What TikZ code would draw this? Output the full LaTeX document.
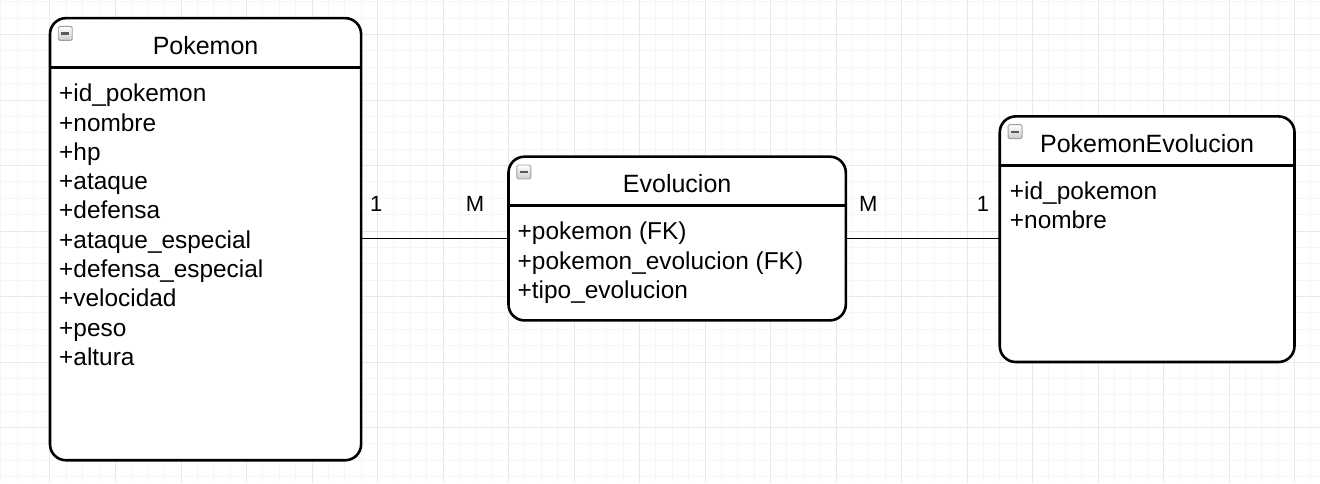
\documentclass[tikz,border=0pt]{standalone}
\usepackage{fontspec}
\setmainfont{Liberation Sans}
\tikzset{
  entity/.style={draw, line width=2.6pt, rounded corners=16pt, fill=white,
    inner sep=0pt, outer sep=0pt, anchor=north west},
  entitle/.style={anchor=base, inner sep=0pt, font=\fontsize{25}{30}\selectfont},
  attr/.style={anchor=base west, inner sep=0pt, font=\fontsize{24.4}{29.3}\selectfont},
  card/.style={anchor=base, inner sep=0pt, font=\fontsize{22}{26}\selectfont},
  rel/.style={line width=1.3pt},
  minbox/.style={minimum size=14pt, inner sep=0pt, rounded corners=1.5pt,
    draw=gray!75, line width=0.9pt, top color=white, bottom color=gray!40,
    path picture={\draw[line width=2.2pt, black!65]
      ([xshift=3pt]path picture bounding box.west) --
      ([xshift=-3pt]path picture bounding box.east);}},
  gridminor/.style={line width=1pt, draw=gray!7},
  gridmajor/.style={line width=1pt, draw=gray!17}
}
\begin{document}
\begin{tikzpicture}

\newcommand\G{16.375pt};

\useasboundingbox (-50pt,34.5pt) rectangle (1270pt,-448.5pt);
\fill[white] (-50pt,34.5pt) rectangle (1270pt,-448.5pt);

%% grid
\foreach \k in {-3,...,77}
  \draw[gridminor] (\k*\G,-448.5pt) -- (\k*\G,34.5pt);
\foreach \k in {-27,...,2}
  \draw[gridminor] (-50pt,\k*\G) -- (1270pt,\k*\G);
\foreach \k in {0,4,...,76}
  \draw[gridmajor] (\k*\G,-448.5pt) -- (\k*\G,34.5pt);
\foreach \k in {-24,-20,...,0}
  \draw[gridmajor] (-50pt,\k*\G) -- (1270pt,\k*\G);

%% entities
\node[entity, minimum width=19*\G, minimum height=27*\G] (pk) at (0*\G, 1*\G) {};
\node[entity, minimum width=20.6*\G, minimum height=10*\G] (evo) at (28*\G, -7.46*\G) {};
\node[entity, minimum width=18*\G, minimum height=15*\G] (pe) at (58*\G, -5*\G) {};

\foreach \e in {pk, evo, pe} {
  \draw[line width=2.6pt] ([yshift=-3*\G]\e.north west) -- ([yshift=-3*\G]\e.north east);
  \node[minbox] (\e-ic) at ([xshift=15.3pt,yshift=-15.3pt]\e.north west) {};
}

\node[entitle] (pk-t) at ([yshift=-36pt]pk.north) {Pokemon};
\node[entitle] (evo-t) at ([yshift=-36pt]evo.north) {Evolucion};
\node[entitle] (pe-t) at ([yshift=-36pt]pe.north) {PokemonEvolucion};

%% attributes
\foreach \a [count=\i] in {+id\_pokemon, +nombre, +hp, +ataque, +defensa,
  +ataque\_especial, +defensa\_especial, +velocidad, +peso, +altura}
  \node[attr] (pk-\i) at ([xshift=9pt, yshift={-3*\G-34.5pt-(\i-1)*29.3pt}]pk.north west) {\a};
\foreach \a [count=\i] in {+pokemon (FK), +pokemon\_evolucion (FK), +tipo\_evolucion}
  \node[attr] (evo-\i) at ([xshift=9pt, yshift={-3*\G-34pt-(\i-1)*29.3pt}]evo.north west) {\a};
\foreach \a [count=\i] in {+id\_pokemon, +nombre}
  \node[attr] (pe-\i) at ([xshift=10pt, yshift={-3*\G-33.5pt-(\i-1)*29.3pt}]pe.north west) {\a};

%% relations
\draw[rel] (evo.west -| pk.east) -- (evo.west);
\draw[rel] (evo.east) -- (evo.east -| pe.west);

\node[card] (c-pk) at ([xshift=15pt,yshift=27.3pt]evo.west -| pk.east) {1};
\node[card] (c-evo1) at ([xshift=-33.5pt,yshift=27.3pt]evo.west) {M};
\node[card] (c-evo2) at ([xshift=22.5pt,yshift=27.3pt]evo.east) {M};
\node[card] (c-pe) at ([xshift=-16.8pt,yshift=27.3pt]evo.east -| pe.west) {1};

\end{tikzpicture}
\end{document}
